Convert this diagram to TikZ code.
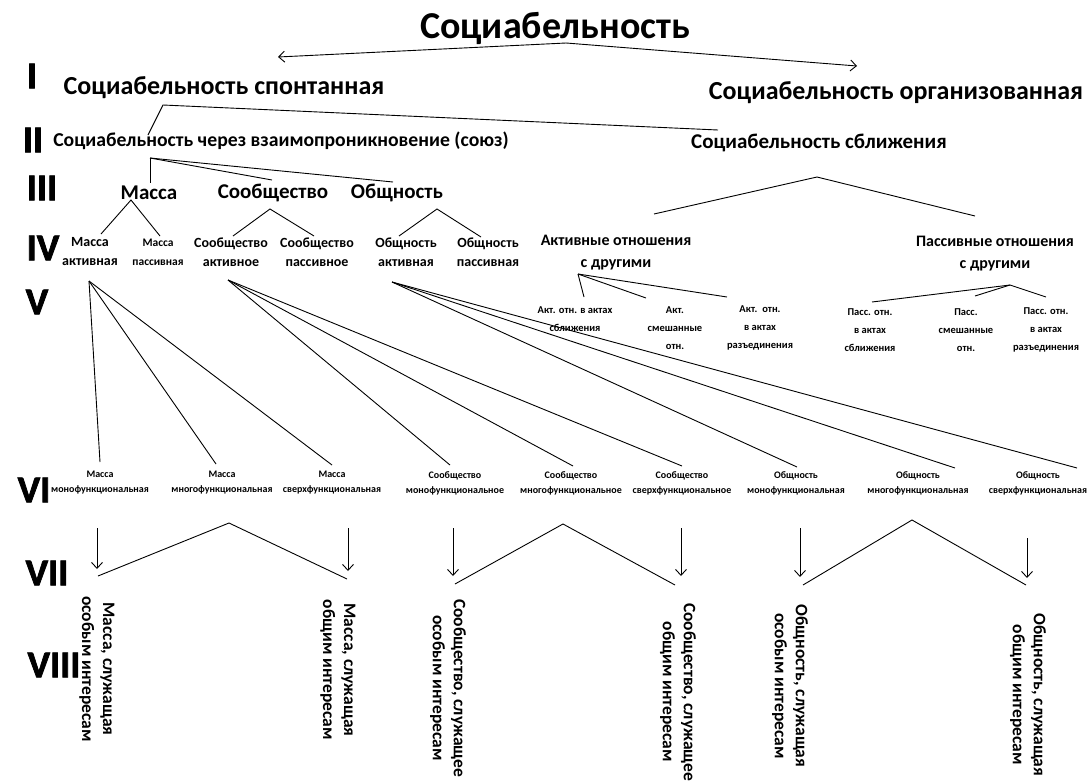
\documentclass[tikz,border=0pt]{standalone}
\usepackage{fontspec}
\setmainfont{Carlito}
\newfontfamily\heavyfont[BoldFeatures={FakeBold=2}]{Carlito}
\usetikzlibrary{arrows.meta}
\begin{document}
\begin{tikzpicture}[x=1pt,y=-1pt,
  txt/.style={inner sep=0pt, outer sep=0pt, align=center},
  roman/.style={txt, font=\fontsize{38}{38}\selectfont\heavyfont\bfseries},
  ttl/.style={txt, font=\fontsize{38}{40}\selectfont\bfseries},
  big/.style={txt, font=\fontsize{26}{28}\selectfont\bfseries},
  mid/.style={txt, font=\fontsize{19.7}{22}\selectfont\bfseries},
  mid2/.style={txt, font=\fontsize{21}{23}\selectfont\bfseries},
  lev3/.style={txt, font=\fontsize{21}{23}\selectfont\bfseries},
  lev4/.style={txt, font=\fontsize{14}{19}\selectfont\bfseries},
  lev4s/.style={txt, font=\fontsize{11.5}{19}\selectfont\bfseries},
  rel/.style={txt, font=\fontsize{16}{22}\selectfont\bfseries},
  lev5/.style={txt, font=\fontsize{10.5}{18}\selectfont\bfseries},
  lev6/.style={txt, font=\fontsize{10}{15}\selectfont\bfseries},
  lev8/.style={txt, rotate=-90, font=\fontsize{17.5}{21}\selectfont\bfseries},
  ln/.style={line width=0.9pt},
  arr/.style={line width=0.9pt, -{Straight Barb[length=6pt,width=11pt]}},
]
\useasboundingbox (0,0) rectangle (1088,782);

% roman numerals
\node[roman] (rI) at (32,76) {I};
\node[roman] (rII) at (33,140) {II};
\node[roman] (rIII) at (42,188) {III};
\node[roman] (rIV) at (43,248) {IV};
\node[roman] (rV) at (37,302) {V};
\node[roman] (rVI) at (34,490) {VI};
\node[roman] (rVII) at (47,573) {VII};
\node[roman] (rVIII) at (54,665) {VIII};

% level 0-II
\node[ttl] (title) at (555,28) {Социабельность};
\node[big] (spont) at (224,88) {Социабельность спонтанная};
\node[big] (org) at (896,93) {Социабельность организованная};
\node[mid] (union) at (281,141) {Социабельность через взаимопроникновение (союз)};
\node[mid2] (sbl) at (819,143) {Социабельность сближения};

% level III
\node[lev3] (massa) at (149,193) {Масса};
\node[lev3] (soob) at (273,193) {Сообщество};
\node[lev3] (obsh) at (397,193) {Общность};

% level IV
\node[lev4] (ma) at (90,252) {Масса\\активная};
\node[lev4s] (mp) at (158,252) {Масса\\пассивная};
\node[lev4] (sa) at (231,252) {Сообщество\\активное};
\node[lev4] (sp) at (317,252) {Сообщество\\пассивное};
\node[lev4] (oa) at (406,252) {Общность\\активная};
\node[lev4] (op) at (488,252) {Общность\\пассивная};
\node[rel] (act) at (616,253) {Активные отношения\\с другими};
\node[rel] (pas) at (995,254) {Пассивные отношения\\с другими};

% level V
\node[lev5] (v1) at (575,319) {Акт. отн. в актах\\сближения};
\node[lev5] (v2) at (675,328) {Акт.\\смешанные\\отн.};
\node[lev5] (v3) at (760,328) {Акт.~~отн.\\в актах\\разъединения};
\node[lev5] (v4) at (870,330) {Пасс. отн.\\в актах\\сближения};
\node[lev5] (v5) at (966,330) {Пасс.\\смешанные\\отн.};
\node[lev5] (v6) at (1046,330) {Пасс. отн.\\в актах\\разъединения};

% level VI
\node[lev6] (m1) at (100,483) {Масса\\монофункциональная};
\node[lev6] (m2) at (222,483) {Масса\\многофункциональная};
\node[lev6] (m3) at (332,483) {Масса\\сверхфункциональная};
\node[lev6] (s1) at (455,483) {Сообщество\\монофункциональное};
\node[lev6] (s2) at (571,483) {Сообщество\\многофункциональное};
\node[lev6] (s3) at (682,483) {Сообщество\\сверхфункциональное};
\node[lev6] (o1) at (796,483) {Общность\\монофункциональная};
\node[lev6] (o2) at (918,483) {Общность\\многофункциональная};
\node[lev6] (o3) at (1038,483) {Общность\\сверхфункциональная};

% level VIII
\node[lev8] (e1) at (97,669) {Масса, служащая\\особым интересам};
\node[lev8] (e2) at (338,670) {Масса, служащая\\общим интересам};
\node[lev8] (e3) at (448,688) {Сообщество, служащее\\особым интересам};
\node[lev8] (e4) at (678,692) {Сообщество, служащее\\общим интересам};
\node[lev8] (e5) at (790,686) {Общность, служащая\\особым интересам};
\node[lev8] (e6) at (1028,695) {Общность, служащая\\общим интересам};

% coordinates
\coordinate (tA) at (566,43);
\coordinate (tL) at (278,57);
\coordinate (tR) at (857,66);
\coordinate (sA) at (163,105);
\coordinate (sL) at (148,135);
\coordinate (sR) at (718,130);
\coordinate (uA) at (150,158);
\coordinate (u1) at (150,183);
\coordinate (u2) at (272,180);
\coordinate (u3) at (393,182);
\coordinate (bA) at (817,177);
\coordinate (b1) at (654,214);
\coordinate (b2) at (975,216);
\coordinate (mA) at (131,200);
\coordinate (mL) at (101,234);
\coordinate (mR) at (160,236);
\coordinate (cA) at (270,209);
\coordinate (cL) at (233,236);
\coordinate (cR) at (314,236);
\coordinate (oA) at (437,209);
\coordinate (oL) at (399,236);
\coordinate (oR) at (481,237);
\coordinate (aA) at (578,274);
\coordinate (a1) at (584,297);
\coordinate (a2) at (646,298);
\coordinate (a3) at (727,297);
\coordinate (pA) at (1010,285);
\coordinate (p1) at (872,302);
\coordinate (p2) at (975,296);
\coordinate (p3) at (1046,297);
\coordinate (maA) at (89,281);
\coordinate (saA) at (228,280);
\coordinate (oaA) at (392,282);
\coordinate (x1) at (100,462);
\coordinate (x2) at (216,464);
\coordinate (x3) at (332,465);
\coordinate (x4) at (450,465);
\coordinate (x5) at (573,466);
\coordinate (x6) at (682,466);
\coordinate (x7) at (797,467);
\coordinate (x8) at (955,468);
\coordinate (x9) at (1077,468);

% connectors top
\draw[arr] (tA) -- (tL);
\draw[arr] (tA) -- (tR);
\draw[ln] (sL) -- (sA) -- (sR);
\draw[ln] (uA) -- (u1);
\draw[ln] (uA) -- (u2);
\draw[ln] (uA) -- (u3);
\draw[ln] (b1) -- (bA) -- (b2);
\draw[ln] (mL) -- (mA) -- (mR);
\draw[ln] (cL) -- (cA) -- (cR);
\draw[ln] (oL) -- (oA) -- (oR);
\draw[ln] (aA) -- (a1);
\draw[ln] (aA) -- (a2);
\draw[ln] (aA) -- (a3);
\draw[ln] (pA) -- (p1);
\draw[ln] (pA) -- (p2);
\draw[ln] (pA) -- (p3);
\foreach \e in {x1,x2,x3} \draw[ln] (maA) -- (\e);
\foreach \e in {x4,x5,x6} \draw[ln] (saA) -- (\e);
\foreach \e in {x7,x8,x9} \draw[ln] (oaA) -- (\e);

% level VII
\coordinate (d1s) at (97,528);   \coordinate (d1e) at (97,569);
\coordinate (d2s) at (348,528);  \coordinate (d2e) at (348,571);
\coordinate (d3s) at (453,528);  \coordinate (d3e) at (453,576);
\coordinate (d4s) at (681,528);  \coordinate (d4e) at (681,576);
\coordinate (d5s) at (800,528);  \coordinate (d5e) at (800,577);
\coordinate (d6s) at (1027,538); \coordinate (d6e) at (1027,578);
\foreach \i in {1,...,6} \draw[arr] (d\i s) -- (d\i e);

\coordinate (w1L) at (98,576);  \coordinate (w1A) at (229,523); \coordinate (w1R) at (347,579);
\coordinate (w2L) at (455,584); \coordinate (w2A) at (563,524); \coordinate (w2R) at (675,585);
\coordinate (w3L) at (803,585); \coordinate (w3A) at (912,520); \coordinate (w3R) at (1026,585);
\draw[ln] (w1L) -- (w1A) -- (w1R);
\draw[ln] (w2L) -- (w2A) -- (w2R);
\draw[ln] (w3L) -- (w3A) -- (w3R);
\end{tikzpicture}
\end{document}
